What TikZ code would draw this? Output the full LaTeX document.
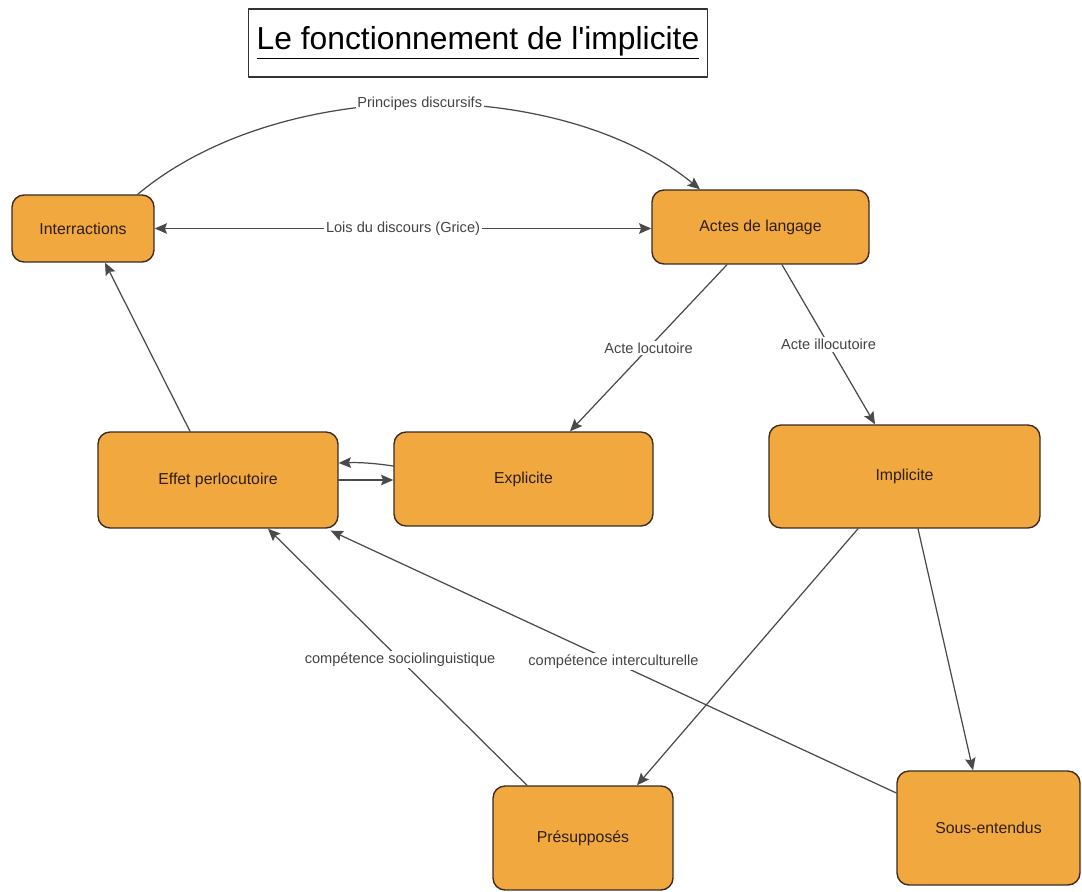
\documentclass[tikz,border=0pt]{standalone}
\usepackage{fontspec}
\setmainfont{Liberation Sans}
\usetikzlibrary{arrows.meta}
\definecolor{boxfill}{HTML}{F0A83F}
\definecolor{boxline}{HTML}{3B2B22}
\definecolor{boxtext}{HTML}{2E1E14}
\definecolor{linegray}{HTML}{4A4A4A}
\definecolor{lblgray}{HTML}{444444}
\begin{document}
\begin{tikzpicture}[x=0.02cm, y=-0.02cm, line join=round, line cap=round, >={Stealth[length=7pt,width=6pt,inset=1.2pt]},
	concept/.style={draw=boxline, fill=boxfill, line width=0.8pt, rounded corners=0.24cm, text=boxtext, font=\fontsize{9}{10}\selectfont, inner sep=0pt},
	rel/.style={draw=linegray, line width=0.7pt},
	lbl/.style={fill=white, text=lblgray, font=\fontsize{8.3}{10}\selectfont, inner sep=1pt}]
	\useasboundingbox (0,0) rectangle (1082,892);
	% titre et concepts
	\node[draw=black!80, line width=0.6pt, minimum width=9.2cm, minimum height=1.36cm, font=\fontsize{18.1}{20}\selectfont] (titre) at (478,43) {\underline{Le fonctionnement de l\textquotesingle implicite}\hspace{0.1cm}};
	\node[concept, minimum width=2.84cm, minimum height=1.34cm] (inter) at (83,228.5) {Interractions};
	\node[concept, minimum width=4.34cm, minimum height=1.48cm] (actes) at (760.5,227) {Actes de langage};
	\node[concept, minimum width=4.8cm, minimum height=1.92cm] (effet) at (218,480) {Effet perlocutoire};
	\node[concept, minimum width=5.18cm, minimum height=1.88cm] (expl) at (523.5,479) {Explicite};
	\node[concept, minimum width=5.42cm, minimum height=2.06cm] (impl) at (904.5,476.5) {Implicite};
	\node[concept, minimum width=3.6cm, minimum height=2.08cm] (presup) at (583,838) {Présupposés};
	\node[concept, minimum width=3.66cm, minimum height=2.28cm] (sous) at (988.5,828) {Sous-entendus};
	% relations
	\draw[rel,->] ([xshift=-0.34cm]inter.north east) .. controls (280,75) and (560,75) .. ([xshift=-1.21cm]actes.north) node[lbl, pos=0.5] {Principes discursifs};
	\draw[rel,<->] (inter.east) -- (inter.east -| actes.west) node[lbl, midway] {Lois du discours (Grice)};
	\draw[rel,->] ([xshift=-0.67cm]actes.south) -- ([xshift=0.93cm]expl.north) node[lbl, midway] {Acte locutoire};
	\draw[rel,->] ([xshift=0.43cm]actes.south) -- ([xshift=-0.59cm]impl.north) node[lbl, midway] {Acte illocutoire};
	\draw[rel,->] ([yshift=0.26cm]expl.west) to[bend right=5] ([yshift=0.34cm]effet.east);
	\draw[rel,->] (effet.east) -- (effet.east -| expl.west);
	\draw[rel,->] ([xshift=-0.56cm]effet.north) -- ([xshift=0.44cm]inter.south);
	\draw[rel,->] ([xshift=-1.12cm]presup.north) -- ([xshift=1.0cm]effet.south) node[lbl, pos=0.49] {compétence sociolinguistique};
	\draw[rel,->] ([yshift=0.7cm]sous.west) -- ([xshift=-0.16cm,yshift=-0.04cm]effet.south east) node[lbl, pos=0.5] {compétence interculturelle};
	\draw[rel,->] ([xshift=-0.93cm]impl.south) -- ([xshift=1.08cm]presup.north);
	\draw[rel,->] ([xshift=0.27cm]impl.south) -- ([xshift=-0.31cm]sous.north);
\end{tikzpicture}
\end{document}
